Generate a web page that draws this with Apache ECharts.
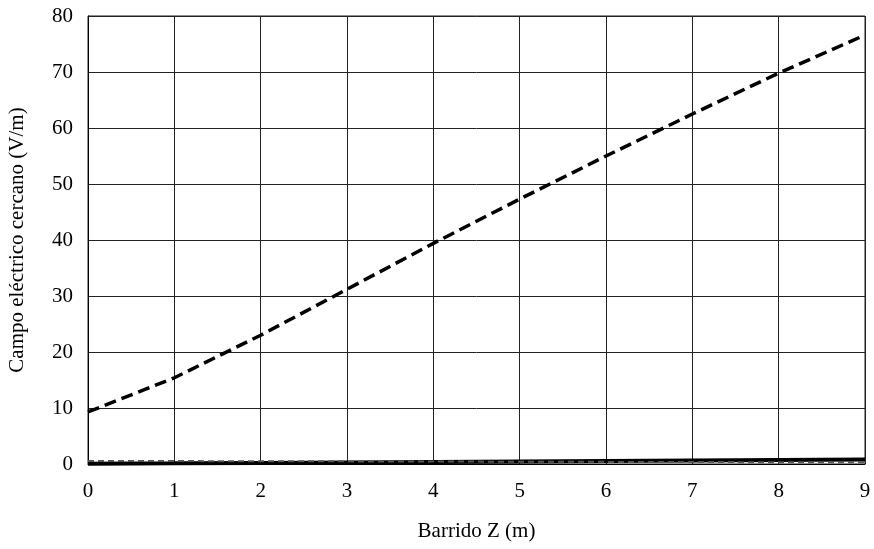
<!DOCTYPE html>
<html>
<head>
<meta charset="utf-8">
<script src="https://cdn.jsdelivr.net/npm/echarts@6/dist/echarts.min.js"></script>
<style>
    html, body { margin: 0; padding: 0; background: #fff; }
    #chart { width: 874px; height: 549px; }
</style>
</head>
<body>
<div id="chart"></div>
<script>
    // datos
    var zValues = [0, 1, 2, 3, 4, 5, 6, 7, 8, 9];
    var campoLejano = [9.3, 15.4, 23.0, 31.2, 39.4, 47.3, 55.0, 62.5, 69.8, 76.6];
    var campoSolido = [0.05, 0.12, 0.2, 0.28, 0.36, 0.45, 0.54, 0.63, 0.72, 0.8];
    var campoPunteado = [0.55, 0.52, 0.5, 0.47, 0.44, 0.41, 0.38, 0.35, 0.32, 0.3];
    var yTicks = [0, 10, 20, 30, 40, 50, 60, 70, 80];

    function pares(ys) {
        return zValues.map(function (z, i) { return [z, ys[i]]; });
    }

    var myChart = echarts.init(document.getElementById('chart'));
    var fuente = 'Liberation Serif';
    var options = {
        animation: false,
        grid: {
            left: 88, right: 9, top: 16, bottom: 85,
            outerBoundsMode: 'none',
            show: true, borderColor: '#222', borderWidth: 1
        },
        xAxis: {
            type: 'value',
            min: 0,
            max: 9,
            interval: 1,
            name: 'Barrido Z (m)',
            nameLocation: 'middle',
            nameGap: 57,
            nameTextStyle: { fontFamily: fuente, fontSize: 21, color: '#000' },
            axisLine: { show: true, lineStyle: { color: '#000', width: 1 } },
            axisTick: { show: false },
            axisLabel: { fontFamily: fuente, fontSize: 21, color: '#000', margin: 17 },
            splitLine: { show: true, lineStyle: { color: '#222', width: 1 } }
        },
        yAxis: {
            type: 'value',
            min: yTicks[0],
            max: yTicks[yTicks.length - 1],
            interval: 10,
            name: 'Campo eléctrico cercano (V/m)',
            nameLocation: 'middle',
            nameGap: 60,
            nameTextStyle: { fontFamily: fuente, fontSize: 21, color: '#000' },
            axisLine: { show: true, lineStyle: { color: '#000', width: 1 } },
            axisTick: { show: false },
            axisLabel: { fontFamily: fuente, fontSize: 21, color: '#000', margin: 15 },
            splitLine: { show: true, lineStyle: { color: '#222', width: 1 } }
        },
        series: [
            {
                type: 'line',
                data: pares(campoLejano),
                symbol: 'none',
                lineStyle: { color: '#000', width: 3.5, type: [12, 6] }
            },
            {
                type: 'line',
                data: pares(campoSolido),
                symbol: 'none',
                lineStyle: { color: '#000', width: 4 }
            },
            {
                type: 'line',
                data: pares(campoPunteado),
                symbol: 'none',
                lineStyle: { color: '#555', width: 2, type: [6, 4] }
            }
        ]
    };
    myChart.setOption(options);
    window.addEventListener('resize', myChart.resize);
</script>
</body>
</html>
